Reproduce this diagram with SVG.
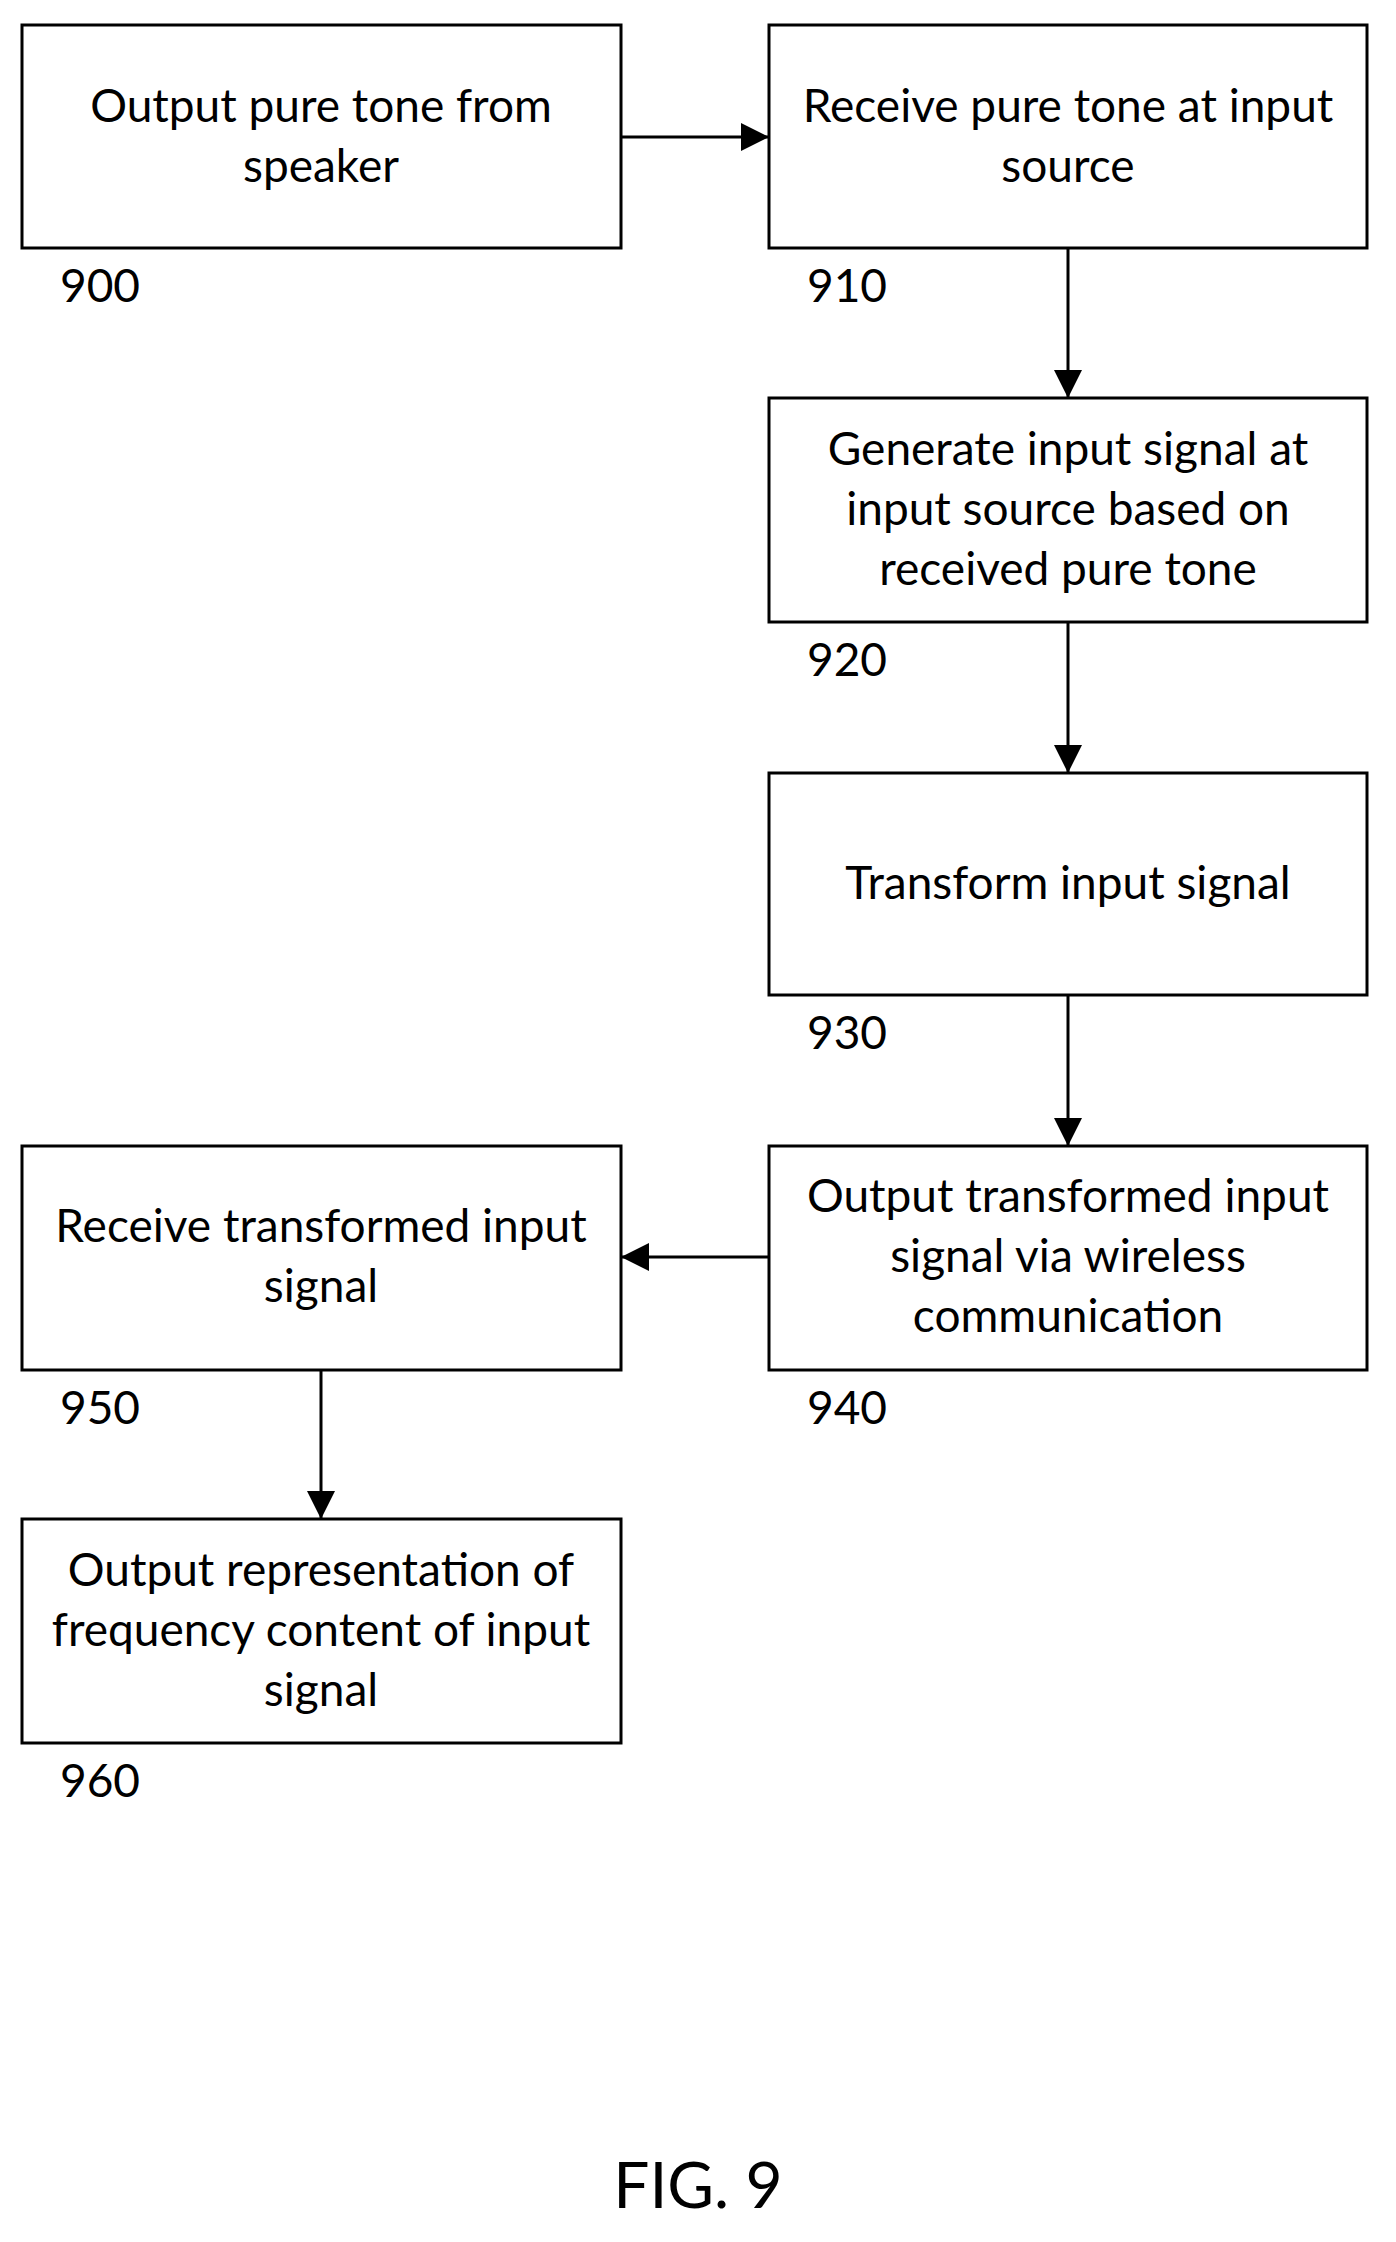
<svg xmlns="http://www.w3.org/2000/svg" width="1396" height="2242" viewBox="0 0 1396 2242">
<style>
rect{fill:#fff;stroke:#000;stroke-width:3}
text{font-family:Lato,"Noto Sans",sans-serif;font-size:46px;fill:#000;text-anchor:middle}
.n{text-anchor:start}
line{stroke:#000;stroke-width:3;marker-end:url(#b)}
</style>
<defs><marker id="b" viewBox="0 0 10 10" refX="10" refY="5" markerWidth="28" markerHeight="28" markerUnits="userSpaceOnUse" orient="auto"><path d="M0,0L10,5L0,10z"/></marker></defs>
<rect width="1396" height="2242" style="stroke:none"/>
<g id="n900"><rect x="22" y="25" width="599" height="223"/><text x="321" y="122">Output pure tone from</text><text x="321" y="182">speaker</text><text class="n" x="60" y="302">900</text></g>
<g id="n910"><rect x="769" y="25" width="598" height="223"/><text x="1068" y="122">Receive pure tone at input</text><text x="1068" y="182">source</text><text class="n" x="807" y="302">910</text></g>
<g id="n920"><rect x="769" y="398" width="598" height="224"/><text x="1068" y="465">Generate input signal at</text><text x="1068" y="525">input source based on</text><text x="1068" y="585">received pure tone</text><text class="n" x="807" y="676">920</text></g>
<g id="n930"><rect x="769" y="773" width="598" height="222"/><text x="1068" y="899">Transform input signal</text><text class="n" x="807" y="1049">930</text></g>
<g id="n940"><rect x="769" y="1146" width="598" height="224"/><text x="1068" y="1212">Output transformed input</text><text x="1068" y="1272">signal via wireless</text><text x="1068" y="1332">communication</text><text class="n" x="807" y="1424">940</text></g>
<g id="n950"><rect x="22" y="1146" width="599" height="224"/><text x="321" y="1242">Receive transformed input</text><text x="321" y="1302">signal</text><text class="n" x="60" y="1424">950</text></g>
<g id="n960"><rect x="22" y="1519" width="599" height="224"/><text x="321" y="1586">Output representation of</text><text x="321" y="1646">frequency content of input</text><text x="321" y="1706">signal</text><text class="n" x="60" y="1797">960</text></g>
<g id="connectors">
<line x1="621" y1="137" x2="769" y2="137"/>
<line x1="1068" y1="248" x2="1068" y2="398"/>
<line x1="1068" y1="622" x2="1068" y2="773"/>
<line x1="1068" y1="995" x2="1068" y2="1146"/>
<line x1="769" y1="1257" x2="621" y2="1257"/>
<line x1="321" y1="1370" x2="321" y2="1519"/>
</g>
<text x="698" y="2208" style="font-size:64px">FIG. 9</text>
</svg>
